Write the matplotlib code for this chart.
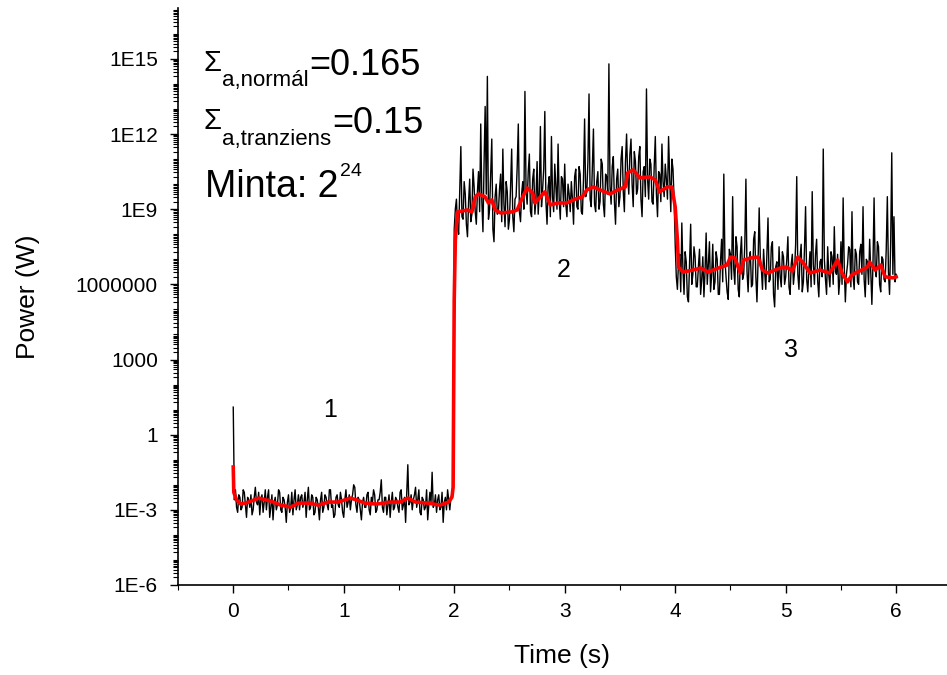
#!/usr/bin/env python3

import numpy as np
import matplotlib
matplotlib.use("Agg")
import matplotlib.pyplot as plt
from matplotlib.ticker import FixedLocator, FixedFormatter, NullFormatter


# raw signal, log10(P / W), sampled every 0.01 s
seg1_log_power = [
    1.1, -2.6, -2.2, -2.9, -3.1, -2.4, -2.5, -3.0, -2.9, -2.2, -2.3, -2.8, -3.3, -2.5, -2.6, -2.9, -2.4, -3.2, -3.0, -2.5,
    -2.1, -2.7, -2.8, -2.3, -3.2, -2.6, -2.4, -3.1, -2.7, -2.2, -3.0, -2.5, -2.2, -3.3, -2.9, -2.4, -3.4, -2.7, -2.5, -3.0,
    -2.8, -2.2, -2.3, -3.0, -3.1, -2.5, -2.6, -2.9, -3.5, -2.7, -2.4, -3.1, -2.9, -2.3, -3.2, -2.6, -2.2, -3.0, -2.8, -2.4,
    -3.0, -2.5, -2.4, -2.9, -2.7, -2.3, -3.3, -2.6, -2.1, -3.0, -2.9, -2.4, -2.5, -3.2, -3.1, -2.5, -2.6, -2.9, -3.4, -2.6,
    -2.3, -3.1, -2.9, -2.4, -2.5, -2.8, -3.0, -2.2, -2.2, -2.9, -2.8, -3.3, -3.2, -2.5, -2.4, -2.8, -2.9, -2.3, -2.6, -3.1,
    -3.3, -2.6, -2.2, -2.9, -2.7, -2.4, -3.0, -2.6, -2.4, -2.0, -2.1, -2.8, -3.1, -2.5, -2.6, -3.0, -3.4, -2.7, -2.5, -2.9,
    -2.9, -2.4, -2.3, -3.0, -3.2, -2.5, -2.7, -2.2, -2.4, -3.1, -3.0, -2.6, -2.6, -2.3, -1.8, -2.9, -3.1, -2.5, -2.5, -3.2,
    -2.8, -2.4, -3.3, -2.7, -2.3, -3.0, -2.9, -2.5, -2.6, -2.9, -3.1, -2.3, -2.2, -3.0, -2.8, -2.5, -3.5, -2.3, -1.2, -2.8,
    -2.7, -2.4, -3.0, -2.6, -2.4, -2.1, -2.9, -2.6, -2.2, -3.1, -3.2, -2.5, -2.6, -3.0, -2.9, -2.2, -3.4, -2.8, -2.3, -2.7,
    -1.5, -2.9, -2.8, -2.4, -3.1, -2.6, -2.4, -3.0, -2.9, -2.3, -3.5, -2.7, -2.5, -3.0, -2.2, -2.6, -3.0, -2.5, -2.4, -2.1,
]
seg2_log_power = [
    8.2, 9.0, 9.4, 8.3, 8.0, 9.8, 11.5, 8.7, 8.6, 10.1, 9.6, 8.4, 7.9, 9.3, 10.2, 8.5, 8.8, 10.6, 9.9, 8.9,
    8.4, 9.7, 10.5, 8.9, 12.4, 9.3, 8.1, 10.8, 13.1, 9.6, 14.3, 8.6, 9.0, 10.4, 11.8, 8.2, 7.7, 9.5, 10.0, 8.8,
    8.9, 9.8, 10.4, 8.5, 11.4, 9.2, 8.3, 10.1, 9.7, 8.2, 8.6, 9.9, 11.4, 8.7, 8.1, 9.4, 9.5, 10.7, 12.4, 8.9,
    8.5, 9.6, 10.1, 9.0, 13.7, 9.8, 9.2, 10.5, 11.2, 8.9, 8.7, 10.2, 10.6, 8.8, 9.4, 10.9, 8.8, 9.7, 12.3, 9.1,
    9.8, 10.6, 12.9, 9.3, 8.4, 9.9, 10.3, 8.7, 11.9, 9.5, 8.9, 10.8, 9.9, 9.0, 11.6, 9.4, 8.6, 10.3, 10.2, 9.1,
    10.8, 9.2, 8.7, 10.0, 9.6, 8.9, 10.1, 9.4, 8.4, 10.3, 10.6, 9.1, 9.0, 10.7, 10.4, 8.9, 8.8, 10.2, 12.6, 9.5,
    9.7, 10.9, 13.6, 9.4, 9.1, 10.6, 12.2, 9.2, 8.9, 10.1, 10.5, 9.0, 9.3, 11.0, 10.8, 9.2, 8.7, 10.4, 10.3, 9.6,
    14.8, 9.9, 9.2, 10.7, 11.1, 9.3, 8.4, 10.2, 10.6, 9.1, 9.5, 11.0, 11.5, 9.7, 8.9, 10.9, 12.0, 10.3, 9.6, 11.2,
    11.8, 10.0, 9.1, 11.3, 10.9, 9.6, 9.8, 11.1, 11.5, 9.4, 8.7, 10.5, 10.7, 9.5, 13.8, 10.2, 9.4, 11.0, 10.8, 9.3,
    9.2, 10.7, 11.9, 9.6, 8.7, 10.5, 10.4, 9.3, 11.6, 10.1, 9.5, 10.8, 10.2, 9.4, 11.9, 10.3, 8.9, 11.0, 10.6, 9.4,
]
seg3_log_power = [
    7.6, 6.3, 5.8, 6.9, 7.2, 5.7, 8.45, 6.6, 5.6, 7.3, 6.9, 5.5, 5.3, 6.8, 8.4, 6.0, 6.4, 7.5, 7.1, 5.9,
    5.9, 6.7, 7.4, 5.6, 6.2, 7.1, 5.5, 6.5, 8.05, 6.0, 6.8, 7.7, 5.7, 6.4, 7.6, 5.8, 6.1, 7.3, 7.0, 5.6,
    5.6, 6.9, 7.8, 6.1, 10.4, 7.0, 6.3, 5.7, 5.4, 7.4, 7.2, 6.2, 9.5, 6.6, 6.0, 7.9, 7.5, 5.8, 5.5, 7.2,
    7.9, 6.2, 6.4, 7.6, 10.2, 6.5, 5.7, 7.0, 7.3, 5.9, 6.0, 7.8, 8.1, 6.3, 5.3, 6.9, 9.05, 7.1, 6.6, 5.8,
    7.4, 6.5, 5.8, 7.2, 8.65, 6.1, 6.2, 7.5, 7.7, 5.6, 5.1, 6.7, 6.9, 5.8, 7.5, 6.3, 5.9, 7.3, 7.1, 6.0,
    6.3, 7.0, 7.9, 5.9, 5.6, 6.8, 7.2, 6.0, 6.5, 7.6, 10.3, 6.4, 5.8, 7.1, 7.6, 5.7, 6.1, 7.4, 9.1, 6.2,
    5.7, 6.6, 7.3, 5.9, 9.7, 6.8, 6.0, 7.2, 7.8, 6.1, 5.5, 6.9, 7.0, 6.3, 11.4, 7.0, 6.2, 5.6, 7.5, 6.4,
    5.9, 7.3, 7.1, 6.0, 8.3, 6.5, 6.4, 7.2, 5.6, 6.2, 7.7, 6.0, 9.45, 6.7, 5.3, 6.4, 6.8, 7.5, 7.4, 5.9,
    8.9, 6.3, 5.8, 7.4, 7.2, 6.1, 6.0, 7.3, 7.6, 6.4, 9.1, 6.2, 5.5, 7.0, 6.9, 6.0, 7.8, 6.5, 5.2, 6.8,
    9.45, 6.6, 6.3, 7.7, 7.5, 6.0, 5.7, 7.1, 7.0, 6.2, 6.1, 7.4, 9.5, 6.5, 5.6, 7.6, 11.25, 6.4, 8.7, 6.1,
    6.4,
]
seg_spans = [(0.0, 1.99), (2.0, 3.99), (4.0, 6.0)]

# smoothed signal (red)
smooth_time = [
    0.0, 0.005, 0.03, 0.07, 0.14, 0.23, 0.34, 0.43, 0.52, 0.59,
    0.68, 0.77, 0.86, 0.95, 1.06, 1.12, 1.19, 1.30, 1.42, 1.51,
    1.58, 1.65, 1.76, 1.87, 1.95, 1.98, 1.99, 2.00, 2.01, 2.03,
    2.12, 2.16, 2.19, 2.22, 2.28, 2.31, 2.34, 2.37, 2.42, 2.52,
    2.57, 2.62, 2.66, 2.71, 2.73, 2.78, 2.82, 2.87, 2.94, 3.02,
    3.10, 3.16, 3.20, 3.26, 3.32, 3.41, 3.48, 3.55, 3.57, 3.62,
    3.68, 3.77, 3.82, 3.86, 3.93, 3.97, 4.00, 4.02, 4.03, 4.07,
    4.16, 4.23, 4.30, 4.39, 4.47, 4.50, 4.54, 4.59, 4.62, 4.68,
    4.75, 4.79, 4.84, 4.90, 4.95, 5.01, 5.06, 5.11, 5.16, 5.22,
    5.31, 5.40, 5.47, 5.51, 5.56, 5.60, 5.65, 5.74, 5.76, 5.81,
    5.86, 5.90, 5.97, 6.00,
]
smooth_log_power = [
    -1.29, -2.3, -2.61, -2.77, -2.69, -2.53, -2.65, -2.81, -2.89, -2.73,
    -2.73, -2.81, -2.69, -2.69, -2.53, -2.61, -2.73, -2.77, -2.69, -2.69,
    -2.53, -2.69, -2.73, -2.81, -2.69, -2.49, -2.09, 5.4, 7.77, 8.89,
    8.97, 8.89, 9.49, 9.61, 9.49, 9.25, 9.37, 8.97, 8.85, 8.89,
    8.97, 9.49, 9.85, 9.65, 9.25, 9.49, 9.69, 9.17, 9.25, 9.25,
    9.41, 9.49, 9.77, 9.89, 9.77, 9.61, 9.77, 9.89, 10.45, 10.57,
    10.25, 10.29, 10.17, 9.69, 9.89, 9.89, 9.09, 7.77, 6.69, 6.49,
    6.57, 6.65, 6.49, 6.65, 6.77, 7.09, 7.05, 6.45, 6.97, 7.05,
    7.09, 6.57, 6.45, 6.57, 6.65, 6.69, 6.53, 7.09, 6.85, 6.45,
    6.57, 6.45, 6.97, 6.45, 6.10, 6.38, 6.49, 6.69, 6.89, 6.57,
    6.77, 6.30, 6.26, 6.30,
]

y_tick_values = [1e-6, 1e-3, 1, 1e3, 1e6, 1e9, 1e12, 1e15]
y_tick_labels = ["1E-6", "1E-3", "1", "1000", "1000000", "1E9", "1E12", "1E15"]
x_tick_values = [0, 1, 2, 3, 4, 5, 6]

region_labels = ["1", "2", "3"]
region_time = [0.88, 2.99, 5.05]
region_power = [10.0, 10 ** 6.57, 10 ** 3.38]

W, H = 947, 675


def text_chain(fig, renderer, x_px, pieces):
    # pieces: (text, fontsize, baseline y in pixels from top)
    x = x_px
    for s, size, y_px in pieces:
        t = fig.text(x / W, 1 - y_px / H, s, fontsize=size, va="baseline")
        x = t.get_window_extent(renderer).x1 + 1


def main():
    plt.rcParams["font.family"] = "Liberation Sans"

    fig = plt.figure(figsize=(W / 100, H / 100), dpi=100)
    ax = fig.add_axes([178 / W, 90 / H, 1 - 178 / W, (585 - 8) / H])

    segments = [seg1_log_power, seg2_log_power, seg3_log_power]
    t_all, p_all = [], []
    for (t0, t1), vals in zip(seg_spans, segments):
        t_all.append(np.linspace(t0, t1, len(vals)))
        p_all.append(10 ** np.array(vals))
    ax.plot(np.concatenate(t_all), np.concatenate(p_all), color="black", lw=1.0)
    ax.plot(smooth_time, 10 ** np.array(smooth_log_power), color="red", lw=2.6)

    ax.set_yscale("log")
    ax.set_xlim(-0.5, 6.46)
    ax.set_ylim(1e-6, 10 ** 17.03)

    ax.yaxis.set_major_locator(FixedLocator(y_tick_values))
    ax.yaxis.set_major_formatter(FixedFormatter(y_tick_labels))
    minor = [10.0 ** k * s for k in range(-6, 17) for s in range(1, 10)
             if not (s == 1 and k % 3 == 0)]
    ax.yaxis.set_minor_locator(FixedLocator(minor))
    ax.yaxis.set_minor_formatter(NullFormatter())

    ax.xaxis.set_major_locator(FixedLocator(x_tick_values))
    ax.xaxis.set_minor_locator(FixedLocator(np.arange(-0.5, 6.5, 0.5)))

    for side in ["top", "right"]:
        ax.spines[side].set_visible(False)
    for side in ["left", "bottom"]:
        ax.spines[side].set_linewidth(1.2)

    ax.tick_params(which="major", direction="out", length=5.5, width=1.0,
                   labelsize=15)
    ax.tick_params(axis="y", which="major", pad=9)
    ax.tick_params(axis="x", which="major", pad=7)
    ax.tick_params(which="minor", direction="out", length=3.5, width=0.8)

    ax.set_xlabel("Time (s)", fontsize=19, labelpad=16)
    ax.set_ylabel("Power (W)", fontsize=19, labelpad=26)

    for lab, tx, py in zip(region_labels, region_time, region_power):
        ax.text(tx, py, lab, fontsize=18, ha="center", va="center")

    renderer = fig.canvas.get_renderer()
    text_chain(fig, renderer, 203, [("Σ", 21, 71), ("a,normál", 16, 86),
                                     ("=0.165", 26, 75)])
    text_chain(fig, renderer, 203, [("Σ", 21, 129), ("a,tranziens", 16, 145),
                                     ("=0.15", 26, 133)])
    text_chain(fig, renderer, 205, [("Minta: 2", 27, 197), ("24", 14, 176)])

    fig.savefig("out.png", dpi=100)
    plt.close(fig)


if __name__ == "__main__":
    main()
